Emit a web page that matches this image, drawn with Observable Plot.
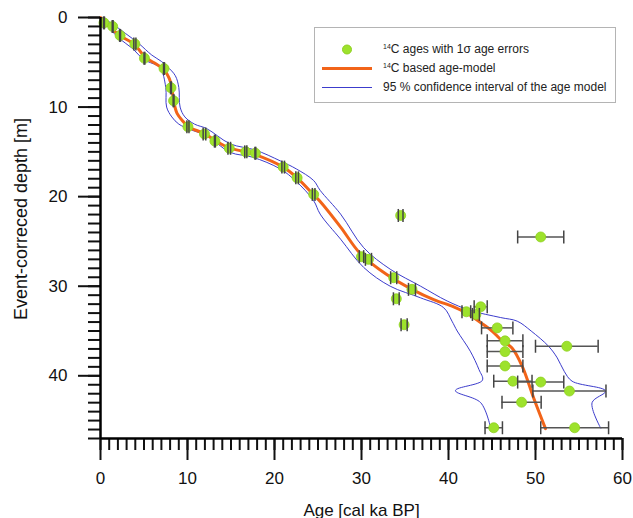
<!DOCTYPE html>
<html><head><meta charset="utf-8">
<script src="https://cdn.jsdelivr.net/npm/d3@7"></script>
<script src="https://cdn.jsdelivr.net/npm/@observablehq/plot@0.6"></script>
<style>
body{margin:0;background:#fff;}
#wrap{position:relative;width:633px;height:518px;overflow:hidden;font-family:"Liberation Sans",Arial,sans-serif;}
#legend{position:absolute;left:314px;top:27px;width:300px;height:74px;border:1px solid #b4b4b4;background:#fff;font-size:12px;color:#222;}
.row{position:absolute;left:0;width:300px;height:19px;line-height:19px;}
.row svg{position:absolute;left:0;top:0;}
.row span{position:absolute;left:68px;top:0;white-space:nowrap;}
sup{font-size:7px;vertical-align:0;position:relative;top:-4px;}
</style></head>
<body>
<div id="wrap">
<div id="legend">
 <div class="row" style="top:12px"><svg width="60" height="19"><circle cx="32" cy="9.5" r="4.5" fill="#9de22c" stroke="#8fd020"/></svg><span><sup>14</sup>C ages with 1σ age errors</span></div>
 <div class="row" style="top:31px"><svg width="60" height="19"><line x1="7" x2="57" y1="9.5" y2="9.5" stroke="#f26419" stroke-width="3"/></svg><span><sup>14</sup>C based age-model</span></div>
 <div class="row" style="top:50px"><svg width="60" height="19"><line x1="7" x2="57" y1="9.5" y2="9.5" stroke="#3c3ccc" stroke-width="1"/></svg><span>95 % confidence interval of the age model</span></div>
</div>
</div>
<script>
// 14C samples: age [cal ka BP], depth [m], 1-sigma error [ka]
const ages   = [0.4, 1.4, 2.25, 3.95, 5.05, 7.3, 8.1, 8.4, 10.05, 11.95, 13.15, 14.8, 16.7, 17.8, 21.0, 22.6, 24.5,
                30.0, 30.8, 34.5, 33.7, 35.8, 34.0, 34.9, 42.05, 43.15, 43.7, 45.6, 46.5, 46.5, 46.5, 53.6, 47.4, 50.6, 53.9, 48.4, 45.2, 54.5, 50.6];
const depths = [0.6, 1.0, 2.0, 2.95, 4.55, 5.7, 7.85, 9.3, 12.2, 13.0, 13.8, 14.6, 15.0, 15.15, 16.7, 17.9, 19.75,
                26.7, 27.0, 22.1, 29.05, 30.35, 31.4, 34.3, 32.85, 33.15, 32.3, 34.65, 36.1, 37.3, 38.9, 36.7, 40.6, 40.7, 41.7, 42.95, 45.8, 45.8, 24.5];
const errs   = [0.05, 0.05, 0.05, 0.12, 0.05, 0.05, 0.05, 0.05, 0.12, 0.15, 0.05, 0.15, 0.12, 0.05, 0.15, 0.15, 0.15,
                0.25, 0.35, 0.27, 0.35, 0.4, 0.33, 0.35, 0.5, 0.4, 0.75, 1.8, 2.05, 2.05, 2.05, 3.6, 2.2, 2.65, 4.2, 2.25, 1.0, 3.9, 2.65];

// age model
const modelAge   = [0, 1.0, 2.2, 3.9, 5.1, 6.4, 7.3, 7.9, 8.2, 8.4, 8.8, 9.5, 10.1, 12.0, 13.2, 14.8, 16.7, 17.8, 21.0, 22.6, 24.5,
                    25.3, 27.6, 29.9, 32.9, 35.8, 38.3, 40.6, 42.1, 44.05, 45.0, 46.0, 47.3, 48.5, 49.8, 51.15];
const modelDepth = [0, 1.0, 2.0, 3.0, 4.4, 5.2, 5.8, 6.8, 7.8, 9.3, 10.7, 11.6, 12.2, 13.0, 13.75, 14.55, 15.0, 15.3, 16.7, 17.9, 19.8,
                    20.6, 23.4, 26.4, 28.7, 30.35, 31.5, 32.3, 33.0, 34.3, 35.0, 35.95, 36.9, 39.0, 42.5, 45.9];

// 95 % confidence interval, older bound
const ciOldAge   = [0.2, 1.5, 2.9, 4.4, 5.9, 7.0, 7.7, 8.6, 9.0, 9.15, 9.7, 10.8, 12.2, 14.9, 17.8, 20.65, 22.5, 24.5,
                    25.25, 27.6, 30.25, 33.3, 36.8, 39.85, 42.5, 46.0, 47.9, 49.5, 51.5, 52.5, 53.3, 54.2, 58.05, 56.5, 57.5];
const ciOldDepth = [0, 0.8, 1.8, 2.9, 4.2, 4.9, 5.5, 6.5, 7.8, 10.0, 11.1, 11.9, 12.4, 14.1, 14.8, 16.0, 16.9, 18.2,
                    19.3, 21.95, 25.7, 28.1, 30.0, 31.65, 32.7, 33.5, 33.9, 35.0, 36.7, 38.0, 39.5, 40.6, 41.7, 43.0, 45.85];
// 95 % confidence interval, younger bound
const ciYoungAge   = [0, 1.0, 2.1, 3.6, 5.0, 6.4, 6.9, 7.5, 7.6, 8.2, 9.0, 10.3, 12.2, 14.9, 17.5, 20.65, 22.5, 24.5,
                      25.25, 27.6, 30.25, 33.3, 36.8, 39.45, 40.4, 41.0, 42.5, 43.5, 43.9, 40.8, 43.7, 44.8];
const ciYoungDepth = [0.3, 1.2, 2.3, 3.4, 4.7, 5.3, 5.6, 7.8, 10.0, 11.1, 11.9, 12.5, 13.2, 15.05, 15.6, 16.9, 18.3, 20.45,
                      21.95, 24.75, 27.9, 30.0, 31.3, 32.4, 33.9, 35.0, 37.25, 39.3, 40.5, 41.65, 43.0, 45.65];

const xMajor = [0, 10, 20, 30, 40, 50, 60];
const yMajor = [0, 10, 20, 30, 40];
const xMinor = d3.range(0, 61, 1);
const yMinor = d3.range(0, 48, 1);

const points = ages.map((a, i) => ({age: a, depth: depths[i], err: errs[i]}));
const model = modelAge.map((a, i) => ({age: a, depth: modelDepth[i]}));
const ciOld = ciOldAge.map((a, i) => ({age: a, depth: ciOldDepth[i]}));
const ciYoung = ciYoungAge.map((a, i) => ({age: a, depth: ciYoungDepth[i]}));

const capSymbol = {draw(ctx, size) { const h = Math.sqrt(size / Math.PI); ctx.moveTo(0, -h); ctx.lineTo(0, h); }};
const font = '"Liberation Sans", Arial, sans-serif';

const chart = Plot.plot({
  width: 633, height: 518,
  marginLeft: 100, marginRight: 11, marginTop: 17, marginBottom: 80,
  style: {fontFamily: font, fontSize: "17px", color: "#111", background: "transparent"},
  x: {domain: [0, 60]},
  y: {domain: [0, 47], reverse: true},
  marks: [
    Plot.line(ciYoung, {x: "age", y: "depth", stroke: "#3c3ccc", strokeWidth: 1, curve: "catmull-rom"}),
    Plot.line(ciOld, {x: "age", y: "depth", stroke: "#3c3ccc", strokeWidth: 1, curve: "catmull-rom"}),
    Plot.line(model, {x: "age", y: "depth", stroke: "#f26419", strokeWidth: 3, curve: "catmull-rom"}),
    Plot.ruleY(points, {y: "depth", x1: d => d.age - d.err, x2: d => d.age + d.err, stroke: "#555", strokeWidth: 1.5}),
    Plot.dot(points, {x: "age", y: "depth", r: 5, fill: "#9de22c", stroke: "#8fd020", strokeWidth: 0.8}),
    Plot.dot(points, {x: d => d.age - d.err, y: "depth", r: 6.5, symbol: capSymbol, stroke: "#444", strokeWidth: 1.5, fill: "none"}),
    Plot.dot(points, {x: d => d.age + d.err, y: "depth", r: 6.5, symbol: capSymbol, stroke: "#444", strokeWidth: 1.5, fill: "none"}),
    Plot.axisY(yMinor, {tickSize: 12, tickFormat: () => "", strokeWidth: 2, label: null}),
    Plot.axisY(yMajor, {tickSize: 22, tickPadding: 11, strokeWidth: 2, fontSize: 17, label: null}),
    Plot.axisX(xMinor, {tickSize: 12, tickFormat: () => "", strokeWidth: 2, label: null}),
    Plot.axisX(xMajor, {tickSize: 22, tickPadding: 11, strokeWidth: 2, fontSize: 17, label: null}),
    Plot.ruleX([0], {stroke: "#000", strokeWidth: 2.5}),
    Plot.ruleY([47], {stroke: "#000", strokeWidth: 2.5}),
    Plot.text(["Age [cal ka BP]"], {text: d => d, frameAnchor: "bottom", textAnchor: "middle", lineAnchor: "bottom", dy: 77, fontSize: 17, fill: "#111"}),
    Plot.text(["Event-correced depth [m]"], {text: d => d, frameAnchor: "left", textAnchor: "middle", rotate: -90, lineAnchor: "bottom", dx: -74, dy: -9, fontSize: 18, fill: "#111"})
  ]
});
const wrap = document.getElementById("wrap");
wrap.insertBefore(chart, wrap.firstChild);
</script>
</body></html>
